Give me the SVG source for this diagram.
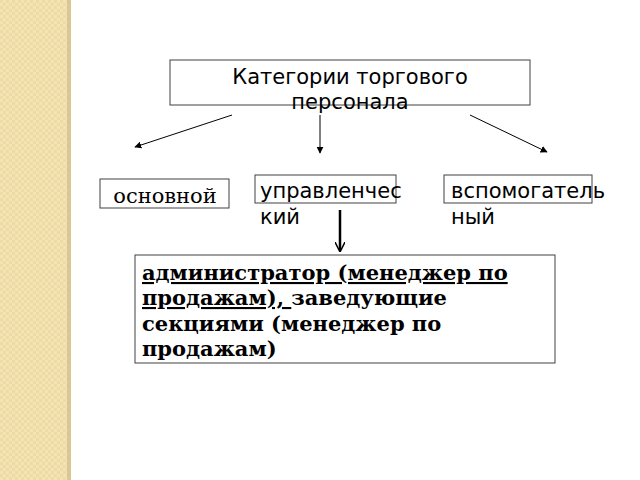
<svg xmlns="http://www.w3.org/2000/svg" width="640" height="480" viewBox="0 0 640 480">
<defs>
<marker id="ah" viewBox="0 0 10 10" refX="9" refY="5" markerWidth="7" markerHeight="7" orient="auto" markerUnits="userSpaceOnUse"><path d="M0,0 L10,5 L0,10 z" fill="#000"/></marker>
<marker id="ao" viewBox="0 0 10 10" refX="9" refY="5" markerWidth="10" markerHeight="10" orient="auto" markerUnits="userSpaceOnUse"><path d="M0,0 L10,5 L0,10" fill="none" stroke="#000" stroke-width="1.5"/></marker>
<pattern id="pt" width="6" height="6" patternUnits="userSpaceOnUse"><rect width="6" height="6" fill="#f3e3b5"/><rect width="3" height="3" fill="#eedaa3"/><rect x="3" y="3" width="3" height="3" fill="#eedaa3"/></pattern>
</defs>
<style>
.b{fill:#fff;stroke:#404040;stroke-width:1}
.s{font-family:"DejaVu Sans",sans-serif;font-size:21px;fill:#000}
.r{font-family:"DejaVu Serif",serif;font-size:21px;fill:#000}
.bd{font-family:"DejaVu Serif",serif;font-size:21px;font-weight:bold;fill:#000}
.c{stroke:#000;stroke-width:1;fill:none}
</style>
<rect width="640" height="480" fill="#fff"/>
<rect x="0" y="0" width="68" height="480" fill="url(#pt)"/>
<rect x="67" y="0" width="4" height="480" fill="#d9c896"/>
<g id="title"><rect class="b" x="170" y="60" width="360" height="45"/><text class="s" x="350" y="84" text-anchor="middle">Категории торгового</text><text class="s" x="350" y="109" text-anchor="middle">персонала</text></g>
<g id="osn"><rect class="b" x="100" y="179" width="129" height="29"/><text class="r" x="165" y="203" text-anchor="middle">основной</text></g>
<g id="upr"><rect class="b" x="255" y="175" width="141" height="28"/><text class="s" x="260" y="198">управленчес</text><text class="s" x="260" y="224">кий</text></g>
<g id="vsp"><rect class="b" x="444" y="175" width="148" height="28"/><text class="s" x="451" y="198">вспомогатель</text><text class="s" x="451" y="224">ный</text></g>
<g id="adm"><rect class="b" x="135" y="255" width="420" height="108"/>
<text class="bd" x="142" y="280"><tspan text-decoration="underline">администратор (менеджер по</tspan></text>
<text class="bd" x="142" y="305"><tspan text-decoration="underline">продажам), </tspan>заведующие</text>
<text class="bd" x="142" y="331">секциями (менеджер по</text>
<text class="bd" x="142" y="356">продажам)</text></g>
<g id="connectors">
<line class="c" x1="232" y1="115" x2="135" y2="147" marker-end="url(#ah)"/>
<line class="c" x1="320" y1="115" x2="320" y2="153" marker-end="url(#ah)"/>
<line class="c" x1="470" y1="115" x2="547" y2="152" marker-end="url(#ah)"/>
<line x1="340" y1="210" x2="340" y2="250" stroke="#000" stroke-width="2.5"/>
<line x1="340" y1="240" x2="340" y2="251" stroke="#000" stroke-width="1" marker-end="url(#ao)"/>
</g>
</svg>
